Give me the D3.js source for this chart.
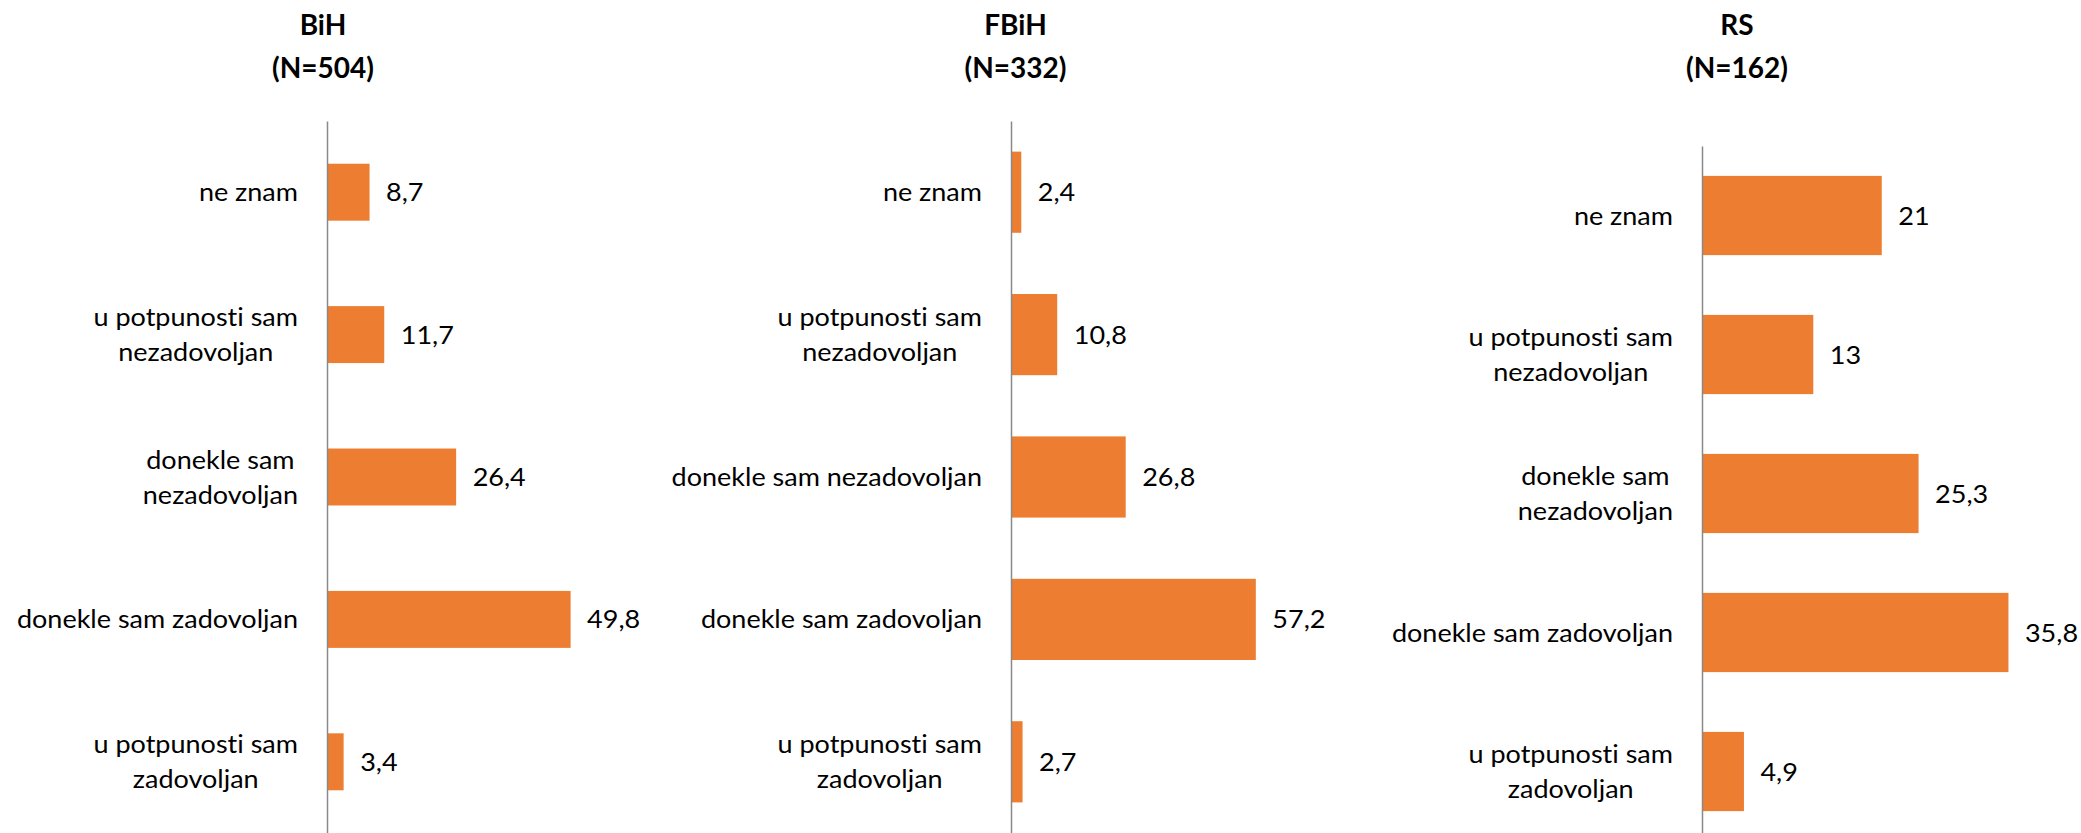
<!DOCTYPE html>
<style>
body {
  margin: 0;
  background: #fff;
  font-family: Lato, 'Open Sans', sans-serif;
}
text {
  font-variant-ligatures: none;
}
.axis .domain {
  stroke: #898989;
  stroke-width: 1.5px;
}
</style>
<svg width="2081" height="833"></svg>
<script src="https://d3js.org/d3.v7.min.js"></script>
<script>
// data, one set of arrays per panel ("\n" marks a line break in the label)
var titlesBiH = ["BiH", "(N=504)"];
var categoriesBiH = ["ne znam", "u potpunosti sam\nnezadovoljan", "donekle sam\nnezadovoljan", "donekle sam zadovoljan", "u potpunosti sam\nzadovoljan"];
var valuesBiH = [8.7, 11.7, 26.4, 49.8, 3.4];

var titlesFBiH = ["FBiH", "(N=332)"];
var categoriesFBiH = ["ne znam", "u potpunosti sam\nnezadovoljan", "donekle sam nezadovoljan", "donekle sam zadovoljan", "u potpunosti sam\nzadovoljan"];
var valuesFBiH = [2.4, 10.8, 26.8, 57.2, 2.7];

var titlesRS = ["RS", "(N=162)"];
var categoriesRS = ["ne znam", "u potpunosti sam\nnezadovoljan", "donekle sam\nnezadovoljan", "donekle sam zadovoljan", "u potpunosti sam\nzadovoljan"];
var valuesRS = [21, 13, 25.3, 35.8, 4.9];

// layout for each panel
var panels = [
  {titles: titlesBiH, cats: categoriesBiH, vals: valuesBiH, axisX: 327, top: 121, bottom: 833, xMax: 60, width: 293.5, pad: 0.6, titleX: 323},
  {titles: titlesFBiH, cats: categoriesFBiH, vals: valuesFBiH, axisX: 1011, top: 121, bottom: 833, xMax: 70, width: 299.6, pad: 0.43, titleX: 1015.5},
  {titles: titlesRS, cats: categoriesRS, vals: valuesRS, axisX: 1702, top: 146, bottom: 841, xMax: 40, width: 342.4, pad: 0.43, titleX: 1737}
];

var svg = d3.select("svg");
var SY = 0.95;
var lineH = 35;
var capH = 18;
var fmt = function(v) { return String(v).replace(".", ","); };

panels.forEach(function(p) {
  var g = svg.append("g");

  var y = d3.scaleBand()
      .domain(d3.range(p.cats.length))
      .range([p.top, p.bottom])
      .paddingInner(p.pad)
      .paddingOuter(p.pad / 2);

  var x = d3.scaleLinear()
      .domain([0, p.xMax])
      .range([p.axisX, p.axisX + p.width]);

  // title
  p.titles.forEach(function(t, i) {
    g.append("text")
      .attr("transform", "translate(" + p.titleX + "," + (35 + i * 42.5) + ") scale(1,1.05)")
      .attr("text-anchor", "middle")
      .attr("font-weight", "bold")
      .attr("font-size", 28)
      .attr("fill", "#000")
      .text(t);
  });

  // bars
  g.selectAll("rect")
    .data(p.vals)
    .enter().append("rect")
      .attr("x", x(0))
      .attr("y", function(d, i) { return y(i); })
      .attr("width", function(d) { return x(d) - x(0); })
      .attr("height", y.bandwidth())
      .attr("fill", "#ED7D31");

  // value labels
  g.selectAll(".val")
    .data(p.vals)
    .enter().append("text")
      .attr("class", "val")
      .attr("transform", function(d, i) {
        return "translate(" + (x(d) + 16.5) + "," + (y(i) + y.bandwidth() / 2 + 9) + ") scale(1," + SY + ")";
      })
      .attr("font-size", 27)
      .attr("fill", "#000")
      .text(fmt);

  // axis line
  g.append("g")
    .attr("class", "axis")
    .attr("transform", "translate(" + p.axisX + ",0)")
    .call(d3.axisLeft(y).tickSize(0).tickFormat(""));

  // category labels, lines centred on each other, block right aligned
  var labelRight = p.axisX - 29;
  p.cats.forEach(function(c, i) {
    var lines = c.split("\n");
    var cy = y(i) + y.bandwidth() / 2;
    var txt = g.append("text")
      .attr("font-size", 27)
      .attr("fill", "#000")
      .attr("text-anchor", "middle");
    lines.forEach(function(l, j) {
      txt.append("tspan")
        .attr("x", 0)
        .attr("y", (j - (lines.length - 1) / 2) * lineH / SY)
        .text(l);
    });
    var w = txt.node().getBBox().width;
    txt.attr("transform", "translate(" + (labelRight - w / 2) + "," + (cy + capH / 2) + ") scale(1," + SY + ")");
  });
});
</script>
